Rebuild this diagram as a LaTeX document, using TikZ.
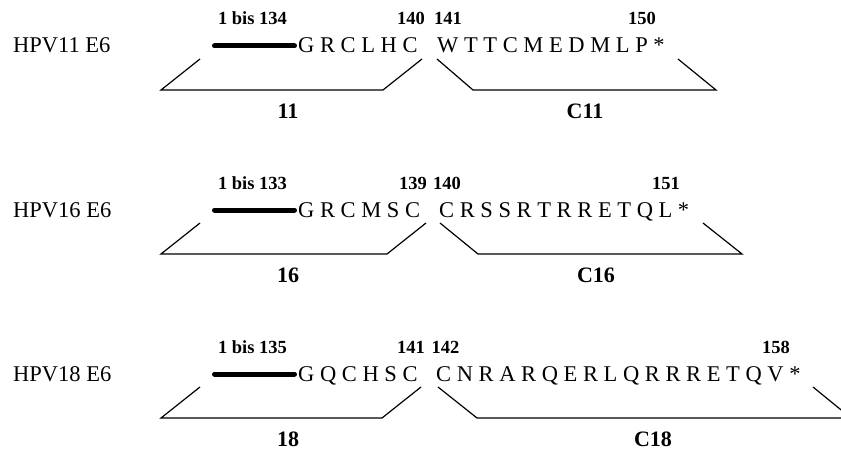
\documentclass[tikz,border=0pt]{standalone}
\usepackage{fontspec}
\setmainfont{Liberation Serif}
\begin{document}
\begin{tikzpicture}[x=1pt,y=-1pt,
	hpvlabel/.style={anchor=base west,inner sep=0pt,font=\fontsize{22.5}{27}\selectfont},
	seqtext/.style={anchor=base west,inner sep=0pt,font=\fontsize{22.5}{27}\selectfont},
	posnum/.style={anchor=base,inner sep=0pt,font=\fontsize{18.5}{22}\selectfont\bfseries},
	fraglabel/.style={anchor=base,inner sep=0pt,font=\fontsize{22}{26}\selectfont\bfseries},
	bar/.style={line width=5pt,line cap=round},
	fragline/.style={line width=1.2pt}]
	\path[use as bounding box,clip] (0,0) rectangle (841,452);
	% HPV11
	\node[hpvlabel] (hpv11) at (13,53) {HPV11 E6};
	\node[posnum] (p11a) at (252.5,25) {1 bis 134};
	\node[posnum] (p11b) at (411,25) {140};
	\node[posnum] (p11c) at (448,25) {141};
	\node[posnum] (p11d) at (642,25) {150};
	\coordinate (b11a) at (214.5,46);
	\coordinate (b11b) at (294.5,46);
	\draw[bar] (b11a) -- (b11b);
	\node[seqtext] (s11a) at (298,53) {G R C L H C};
	\node[seqtext] (s11b) at (437,53) {W T T C M E D M L P *};
	\draw[fragline] (200,59) -- (161,90) -- (383,90) -- (422,59);
	\draw[fragline] (437,59) -- (473,90) -- (716,90) -- (678,59);
	\node[fraglabel] (f11) at (288,118) {11};
	\node[fraglabel] (fc11) at (585,118) {C11};
	% HPV16
	\node[hpvlabel] (hpv16) at (13,217) {HPV16 E6};
	\node[posnum] (p16a) at (252.5,189) {1 bis 133};
	\node[posnum] (p16b) at (413,189) {139};
	\node[posnum] (p16c) at (447,189) {140};
	\node[posnum] (p16d) at (666,189) {151};
	\coordinate (b16a) at (214.5,210);
	\coordinate (b16b) at (294.5,210);
	\draw[bar] (b16a) -- (b16b);
	\node[seqtext] (s16a) at (298,217) {G R C M S C};
	\node[seqtext] (s16b) at (439,217) {C R S S R T R R E T Q L *};
	\draw[fragline] (200,223) -- (161,254) -- (387,254) -- (426,223);
	\draw[fragline] (440,223) -- (478,254) -- (742,254) -- (703,223);
	\node[fraglabel] (f16) at (288,282) {16};
	\node[fraglabel] (fc16) at (596,282) {C16};
	% HPV18
	\node[hpvlabel] (hpv18) at (13,381) {HPV18 E6};
	\node[posnum] (p18a) at (252.5,353) {1 bis 135};
	\node[posnum] (p18b) at (411,353) {141};
	\node[posnum] (p18c) at (445.5,353) {142};
	\node[posnum] (p18d) at (776,353) {158};
	\coordinate (b18a) at (214.5,374);
	\coordinate (b18b) at (294.5,374);
	\draw[bar] (b18a) -- (b18b);
	\node[seqtext] (s18a) at (298,381) {G Q C H S C};
	\node[seqtext] (s18b) at (436,381) {C N R A R Q E R L Q R R R E T Q V *};
	\draw[fragline] (200,387) -- (161,418) -- (382,418) -- (421,387);
	\draw[fragline] (438,387) -- (477,418) -- (851,418) -- (813,387);
	\node[fraglabel] (f18) at (288,446) {18};
	\node[fraglabel] (fc18) at (653,446) {C18};
\end{tikzpicture}
\end{document}
